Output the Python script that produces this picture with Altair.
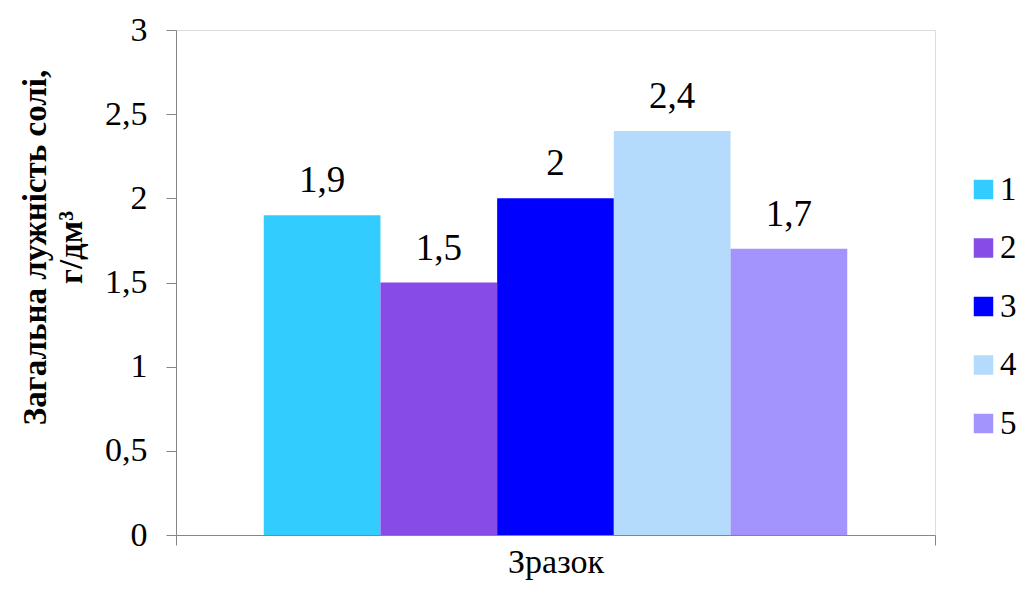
import altair as alt
import pandas as pd

series = ["1", "2", "3", "4", "5"]
values = [1.9, 1.5, 2.0, 2.4, 1.7]
colors = ["#33CCFF", "#874BE6", "#0000FF", "#B5DBFC", "#A393FC"]
sample = "Зразок"

df = pd.DataFrame({"sample": [sample] * len(series), "series": series, "value": values})

FONT = "Liberation Serif, Times New Roman, DejaVu Serif, serif"

x = alt.X("sample:N", title="Зразок",
          scale=alt.Scale(paddingInner=0, paddingOuter=0),
          axis=alt.Axis(labels=False, tickBand="extent", tickSize=10, tickColor="#868686",
                        domainColor="#868686", titleFont=FONT, titleFontSize=34,
                        titleFontWeight="normal", titleColor="black", titlePadding=0))
xo = alt.XOffset("series:N", scale=alt.Scale(paddingInner=0, paddingOuter=0.752))

base = alt.Chart(df).encode(x=x, xOffset=xo)

bars = base.mark_bar().encode(
    y=alt.Y("value:Q", scale=alt.Scale(domain=[0, 3]),
            axis=alt.Axis(values=[0, 0.5, 1, 1.5, 2, 2.5, 3], grid=False,
                          labelExpr="replace(toString(datum.value), '.', ',')",
                          labelFont=FONT, labelFontSize=34, labelColor="black",
                          labelPadding=19, tickSize=10, tickColor="#868686",
                          domainColor="#868686",
                          title=["Загальна лужність солі,", "г/дм³"],
                          titleFont=FONT, titleFontSize=33, titleFontWeight="bold",
                          titleColor="black", titleLineHeight=36, titlePadding=16,
                          titleY=217)),
    color=alt.Color("series:N", scale=alt.Scale(domain=series, range=colors),
                    legend=alt.Legend(title=None, orient="none", legendX=791, legendY=143,
                                      symbolType="square", symbolSize=380, symbolStrokeWidth=0,
                                      labelFont=FONT, labelFontSize=33, labelColor="black",
                                      rowPadding=24.5, labelOffset=0, padding=0)),
)

labels = base.mark_text(font=FONT, fontSize=37, color="black", baseline="bottom", dy=-15).encode(
    y="value:Q",
    text="label:N",
).transform_calculate(label="replace(toString(datum.value), '.', ',')")

chart = (bars + labels).properties(
    width=759, height=505,
    autosize=alt.AutoSizeParams(type="none"),
    padding={"left": 168, "top": 22, "right": 84, "bottom": 46},
).configure_view(stroke=None).configure(font=FONT)

chart.save("out.html", embed_options={"renderer": "svg", "actions": False})
